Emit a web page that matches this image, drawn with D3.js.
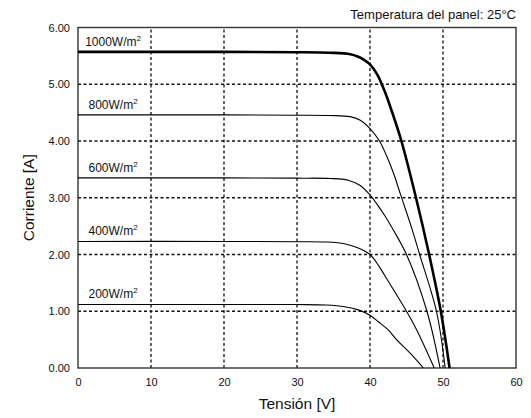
<html>
  <head>
    <meta charset="utf-8">
    <title>Curvas I-V</title>
    <style>
      body { margin: 0; background: #fff; }
      text { font-family: 'Liberation Sans', Arial, sans-serif; fill: #111; }
    </style>
  </head>
  <body>
    <script src="https://d3js.org/d3.v7.min.js"></script>
    <script>
      var width = 531, height = 418;
      var margin = { top: 27.5, right: 15, bottom: 50, left: 78 };

      // ticks
      var xTicks = [0, 10, 20, 30, 40, 50, 60];
      var yTicks = [0, 1, 2, 3, 4, 5, 6];

      // irradiancia (W/m2) y curvas: [tension V, corriente A]
      var irradiances = [1000, 800, 600, 400, 200];
      var curve1000 = [[0, 5.57], [20, 5.57], [30, 5.565], [34.5, 5.555], [37.3, 5.53], [38.3, 5.49], [39.2, 5.43], [40, 5.35], [41, 5.17], [42, 4.88], [43, 4.52], [44.3, 4.0], [46.3, 3.0], [48.1, 2.0], [49.7, 1.0], [50.9, 0]];
      var curve800 = [[0, 4.46], [20, 4.46], [30, 4.455], [34.5, 4.45], [37.3, 4.43], [38.6, 4.37], [40, 4.22], [41.3, 4.0], [42.3, 3.73], [43.2, 3.44], [44.2, 3.05], [45.8, 2.43], [46.8, 2.0], [49.1, 1.0], [50.3, 0]];
      var curve600 = [[0, 3.35], [20, 3.35], [30, 3.345], [34.5, 3.34], [37, 3.31], [38.6, 3.22], [40, 3.05], [41, 2.88], [42.1, 2.67], [43.2, 2.43], [45, 2.0], [47.8, 1.0], [49.6, 0]];
      var curve400 = [[0, 2.23], [20, 2.23], [30, 2.225], [34, 2.22], [36.5, 2.19], [38.3, 2.12], [40, 2.0], [41.2, 1.8], [42.4, 1.55], [45, 1.0], [46.4, 0.67], [48.8, 0]];
      var curve200 = [[0, 1.12], [20, 1.12], [30, 1.118], [34, 1.11], [36.5, 1.08], [38.5, 1.02], [40, 0.93], [41.2, 0.81], [42.5, 0.67], [43.7, 0.49], [45.5, 0.26], [47.3, 0]];
      var curves = [curve1000, curve800, curve600, curve400, curve200];

      var x = d3.scaleLinear().domain([0, 60]).range([margin.left, width - margin.right]);
      var y = d3.scaleLinear().domain([0, 6]).range([height - margin.bottom, margin.top]);

      var svg = d3.select("body").append("svg")
        .attr("width", width)
        .attr("height", height);

      // rejilla punteada
      svg.append("g").selectAll("line")
        .data(xTicks.filter(function(d) { return d > 0 && d < 60; }))
        .enter().append("line")
        .attr("x1", function(d) { return x(d); })
        .attr("x2", function(d) { return x(d); })
        .attr("y1", y(0)).attr("y2", y(6))
        .attr("stroke", "#111").attr("stroke-width", 1.3)
        .attr("stroke-dasharray", "3,2.5");

      svg.append("g").selectAll("line")
        .data(yTicks.filter(function(d) { return d > 0 && d < 6; }))
        .enter().append("line")
        .attr("y1", function(d) { return y(d); })
        .attr("y2", function(d) { return y(d); })
        .attr("x1", x(0)).attr("x2", x(60))
        .attr("stroke", "#111").attr("stroke-width", 1.3)
        .attr("stroke-dasharray", "3,2.5");

      // marco
      svg.append("rect")
        .attr("x", x(0)).attr("y", y(6))
        .attr("width", x(60) - x(0)).attr("height", y(0) - y(6))
        .attr("fill", "none").attr("stroke", "#333").attr("stroke-width", 1.4);

      // ejes
      svg.append("g")
        .attr("transform", "translate(0," + y(0) + ")")
        .call(d3.axisBottom(x).tickValues(xTicks).tickSize(0).tickPadding(10));
      svg.append("g")
        .attr("transform", "translate(" + x(0) + ",0)")
        .call(d3.axisLeft(y).tickValues(yTicks).tickSize(0).tickPadding(8).tickFormat(d3.format(".2f")));
      svg.selectAll(".domain").remove();
      svg.selectAll(".tick text")
        .style("font-family", "'Liberation Sans', Arial, sans-serif")
        .style("font-size", "11px")
        .attr("fill", "#111");

      // curvas
      var line = d3.line()
        .x(function(d) { return x(d[0]); })
        .y(function(d) { return y(d[1]); })
        .curve(d3.curveCatmullRom.alpha(0.5));

      svg.append("g").selectAll("path")
        .data(curves)
        .enter().append("path")
        .attr("d", line)
        .attr("fill", "none")
        .attr("stroke", "#000")
        .attr("stroke-width", function(d, i) { return i === 0 ? 2.6 : 1.1; });

      // etiquetas de irradiancia
      var labels = svg.append("g").selectAll("text")
        .data(irradiances)
        .enter().append("text")
        .attr("x", x(4.8))
        .attr("y", function(d, i) { return y(curves[i][0][1]) - 6; })
        .attr("text-anchor", "middle")
        .style("font-size", "12px");
      labels.append("tspan").text(function(d) { return d + "W/m"; });
      labels.append("tspan").attr("dy", -5).style("font-size", "8px").text("2");

      // titulos
      svg.append("text")
        .attr("x", x(60)).attr("y", 19)
        .attr("text-anchor", "end")
        .style("font-size", "13px")
        .text("Temperatura del panel: 25°C");

      svg.append("text")
        .attr("x", (x(0) + x(60)) / 2).attr("y", 409)
        .attr("text-anchor", "middle")
        .style("font-size", "15.5px")
        .text("Tensión [V]");

      svg.append("text")
        .attr("transform", "translate(34," + ((y(0) + y(6)) / 2) + ") rotate(-90)")
        .attr("text-anchor", "middle")
        .style("font-size", "15.5px")
        .text("Corriente [A]");
    </script>
  </body>
</html>
